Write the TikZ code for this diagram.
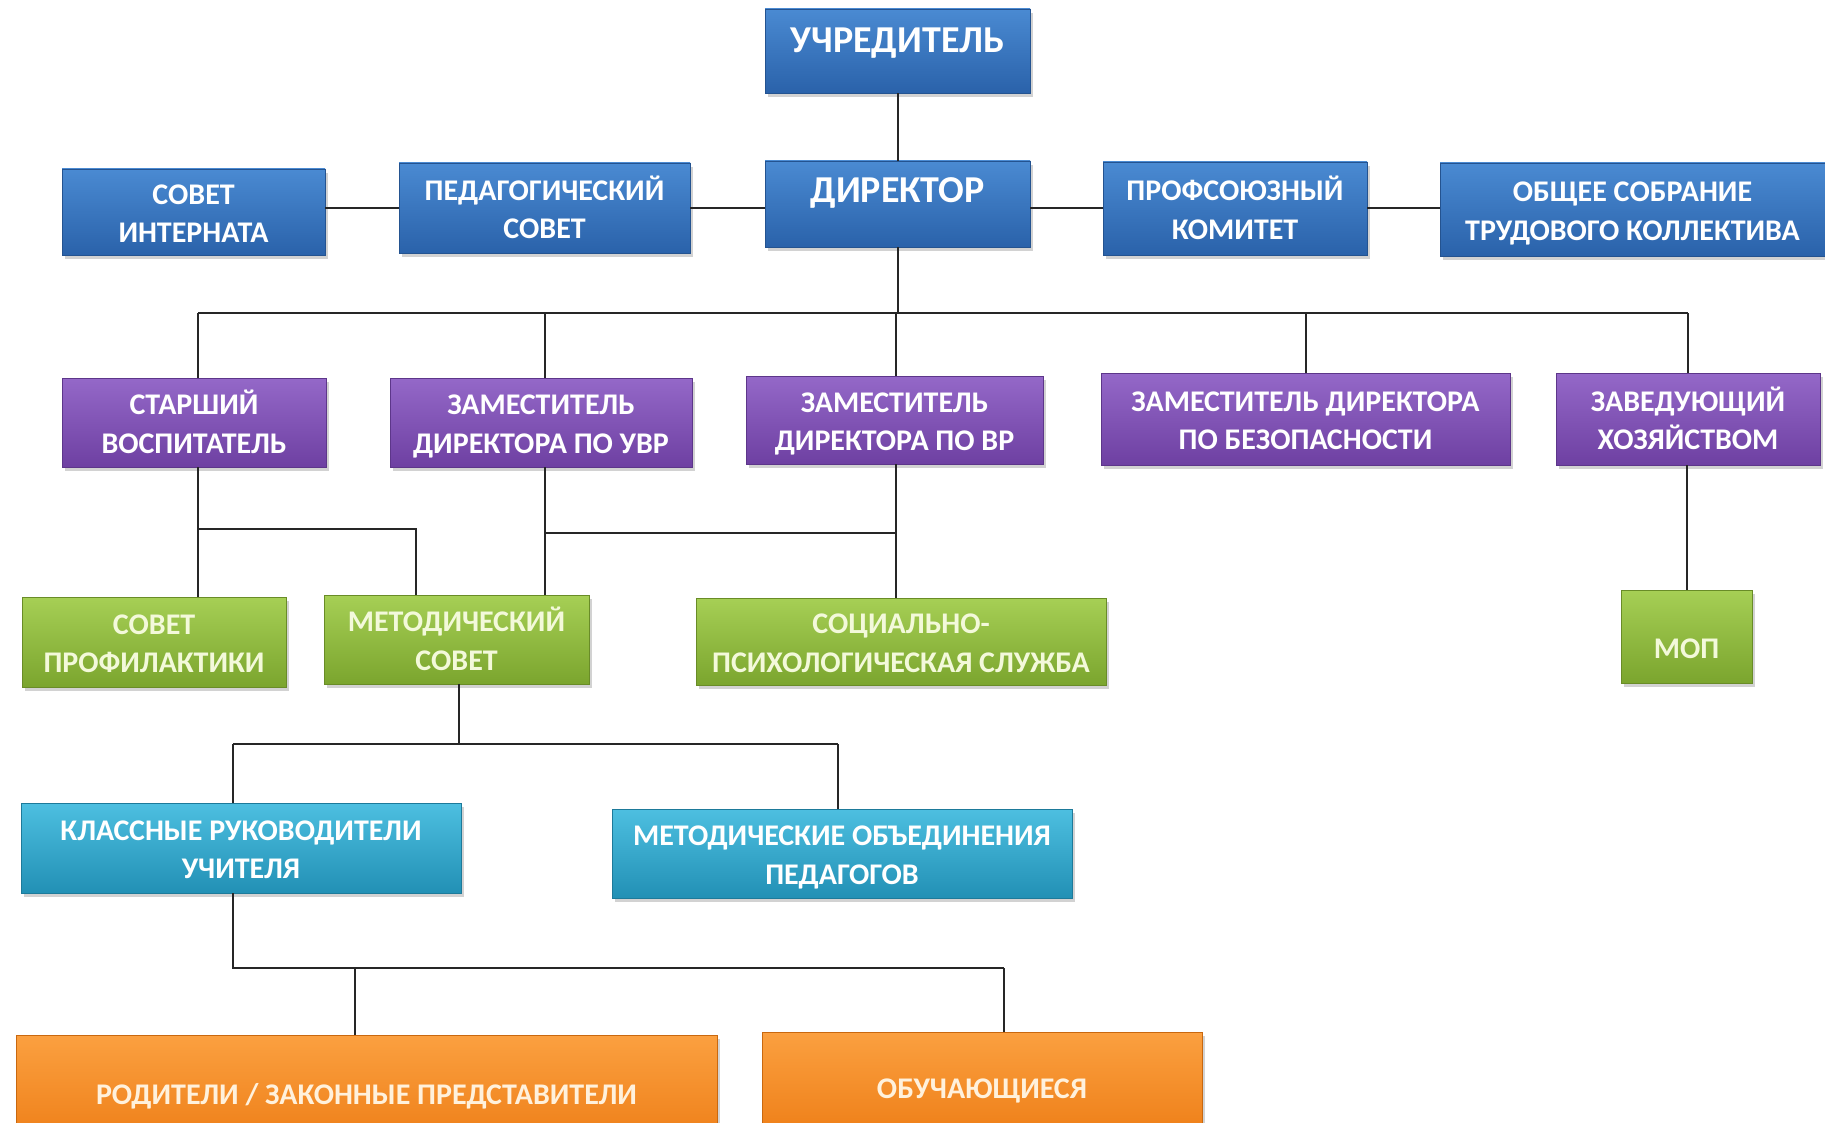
\documentclass[tikz,border=0pt]{standalone}
\usepackage{fontspec}
\setmainfont{Carlito}
\usetikzlibrary{shadows}
\definecolor{bluetop}{HTML}{4A8AD2}
\definecolor{bluebot}{HTML}{2A62AA}
\definecolor{purtop}{HTML}{9468C8}
\definecolor{purbot}{HTML}{6E40A2}
\definecolor{grntop}{HTML}{A6CF55}
\definecolor{grnbot}{HTML}{7BA52E}
\definecolor{cyntop}{HTML}{4DBFE0}
\definecolor{cynbot}{HTML}{2290B5}
\definecolor{orgtop}{HTML}{FBA040}
\definecolor{orgbot}{HTML}{EC7A12}
\definecolor{grntext}{HTML}{F3F9DA}
\definecolor{orgtext}{HTML}{FFF1DC}
\newcommand\boxlines[1]{\raisebox{-4pt}[\height][\depth]{\begin{tabular}{@{}c@{}}#1\end{tabular}}}
\tikzset{
  box/.style={rectangle, align=center, inner sep=0pt,
    font=\bfseries\fontsize{30}{38.5}\selectfont,
    drop shadow={shadow xshift=3pt, shadow yshift=-4pt, opacity=0.35}},
  bluebox/.style={box, top color=bluetop, bottom color=bluebot, draw=bluebot!85!black, text=white},
  purbox/.style={box, top color=purtop, bottom color=purbot, draw=purbot!85!black, text=white},
  grnbox/.style={box, top color=grntop, bottom color=grnbot, draw=grnbot!85!black, text=grntext},
  cynbox/.style={box, top color=cyntop, bottom color=cynbot, draw=cynbot!85!black, text=white},
  orgbox/.style={box, top color=orgtop, bottom color=orgbot, draw=orgbot!85!black, text=orgtext},
  bigtext/.style={font=\bfseries\fontsize{38}{44}\selectfont},
  conn/.style={line width=2pt, black!85}
}
\begin{document}
\begin{tikzpicture}[x=1pt, y=-1pt]
\useasboundingbox (0,0) rectangle (1825,1123);
\clip (0,0) rectangle (1825,1123);
\fill[white] (0,0) rectangle (1825,1123);

% row 0/1
\node[bluebox, bigtext, minimum width=265pt, minimum height=84pt, text depth=22pt] (uch) at (897.5,51) {УЧРЕДИТЕЛЬ};
\node[bluebox, bigtext, minimum width=265pt, minimum height=86pt, text depth=27pt] (dir) at (897.5,204) {ДИРЕКТОР};
\node[bluebox, minimum width=263pt, minimum height=86pt] (sint) at (193.5,212) {\boxlines{СОВЕТ\\ИНТЕРНАТА}};
\node[bluebox, minimum width=291pt, minimum height=90pt] (ped) at (544.5,208) {\boxlines{ПЕДАГОГИЧЕСКИЙ\\СОВЕТ}};
\node[bluebox, minimum width=264pt, minimum height=93pt] (prof) at (1235,208.5) {\boxlines{ПРОФСОЮЗНЫЙ\\КОМИТЕТ}};
\node[bluebox, minimum width=385pt, minimum height=93pt] (obs) at (1632.5,209.5) {\boxlines{ОБЩЕЕ СОБРАНИЕ\\ТРУДОВОГО КОЛЛЕКТИВА}};

% row 2
\node[purbox, minimum width=264pt, minimum height=89pt] (star) at (194,422.5) {\boxlines{СТАРШИЙ\\ВОСПИТАТЕЛЬ}};
\node[purbox, minimum width=302pt, minimum height=89pt] (zuvr) at (541,422.5) {\boxlines{ЗАМЕСТИТЕЛЬ\\ДИРЕКТОРА ПО УВР}};
\node[purbox, minimum width=297pt, minimum height=88pt] (zvr) at (894.5,420) {\boxlines{ЗАМЕСТИТЕЛЬ\\ДИРЕКТОРА ПО ВР}};
\node[purbox, minimum width=409pt, minimum height=92pt] (zbez) at (1305.5,419) {\boxlines{ЗАМЕСТИТЕЛЬ ДИРЕКТОРА\\ПО БЕЗОПАСНОСТИ}};
\node[purbox, minimum width=264pt, minimum height=92pt] (zav) at (1688,419) {\boxlines{ЗАВЕДУЮЩИЙ\\ХОЗЯЙСТВОМ}};

% row 3
\node[grnbox, minimum width=264pt, minimum height=90pt] (sprof) at (154,642) {\boxlines{СОВЕТ\\ПРОФИЛАКТИКИ}};
\node[grnbox, minimum width=265pt, minimum height=89pt] (met) at (456.5,639.5) {\boxlines{МЕТОДИЧЕСКИЙ\\СОВЕТ}};
\node[grnbox, minimum width=410pt, minimum height=87pt] (soc) at (901,641.5) {\boxlines{СОЦИАЛЬНО-\\ПСИХОЛОГИЧЕСКАЯ СЛУЖБА}};
\node[grnbox, minimum width=131pt, minimum height=93pt, text height=44pt] (mop) at (1686.5,636.5) {МОП};

% row 4
\node[cynbox, minimum width=440pt, minimum height=90pt] (kl) at (241,848) {\boxlines{КЛАССНЫЕ РУКОВОДИТЕЛИ\\УЧИТЕЛЯ}};
\node[cynbox, minimum width=460pt, minimum height=89pt] (mob) at (842,853.5) {\boxlines{МЕТОДИЧЕСКИЕ ОБЪЕДИНЕНИЯ\\ПЕДАГОГОВ}};

% row 5
\node[orgbox, minimum width=701pt, minimum height=122pt] (rod) at (366.5,1096) {РОДИТЕЛИ / ЗАКОННЫЕ ПРЕДСТАВИТЕЛИ};
\node[orgbox, minimum width=440pt, minimum height=118pt] (obu) at (982,1091) {ОБУЧАЮЩИЕСЯ};

% connector points
\coordinate (bus) at (897.5,313);
\coordinate (t1) at (198,313);
\coordinate (t2) at (545,313);
\coordinate (t3) at (896,313);
\coordinate (t4) at (1306,313);
\coordinate (t5) at (1688,313);
\coordinate (s1) at (198,529);
\coordinate (s2) at (416,529);
\coordinate (u1) at (545,533);
\coordinate (u2) at (896,533);
\coordinate (m0) at (459,744);
\coordinate (m1) at (233,744);
\coordinate (m2) at (838,744);
\coordinate (k0) at (233,968);
\coordinate (k1) at (355,968);
\coordinate (k2) at (1004,968);

\begin{scope}[conn]
\draw (uch) -- (dir);
\draw (sint.east |- ped.east) -- (ped.west);
\draw (ped.east) -- (ped.east -| dir.west);
\draw (prof.west -| dir.east) -- (prof.west);
\draw (prof.east) -- (prof.east -| obs.west);
\draw (dir.south) -- (bus);
\draw (t1) -- (t5);
\draw (t1) -- (t1 |- star.north);
\draw (t2) -- (t2 |- zuvr.north);
\draw (t3) -- (t3 |- zvr.north);
\draw (t4) -- (t4 |- zbez.north);
\draw (t5) -- (t5 |- zav.north);
\draw (s1 |- star.south) -- (s1 |- sprof.north);
\draw (s1) -- (s2) -- (s2 |- met.north);
\draw (u1 |- zuvr.south) -- (u1 |- met.north);
\draw (u1) -- (u2);
\draw (u2 |- zvr.south) -- (u2 |- soc.north);
\draw (zav.south -| mop.north) -- (mop.north);
\draw (m0 |- met.south) -- (m0);
\draw (m1) -- (m2);
\draw (m1) -- (m1 |- kl.north);
\draw (m2) -- (m2 |- mob.north);
\draw (k0 |- kl.south) -- (k0) -- (k2);
\draw (k1) -- (k1 |- rod.north);
\draw (k2) -- (k2 |- obu.north);
\end{scope}
\end{tikzpicture}
\end{document}
